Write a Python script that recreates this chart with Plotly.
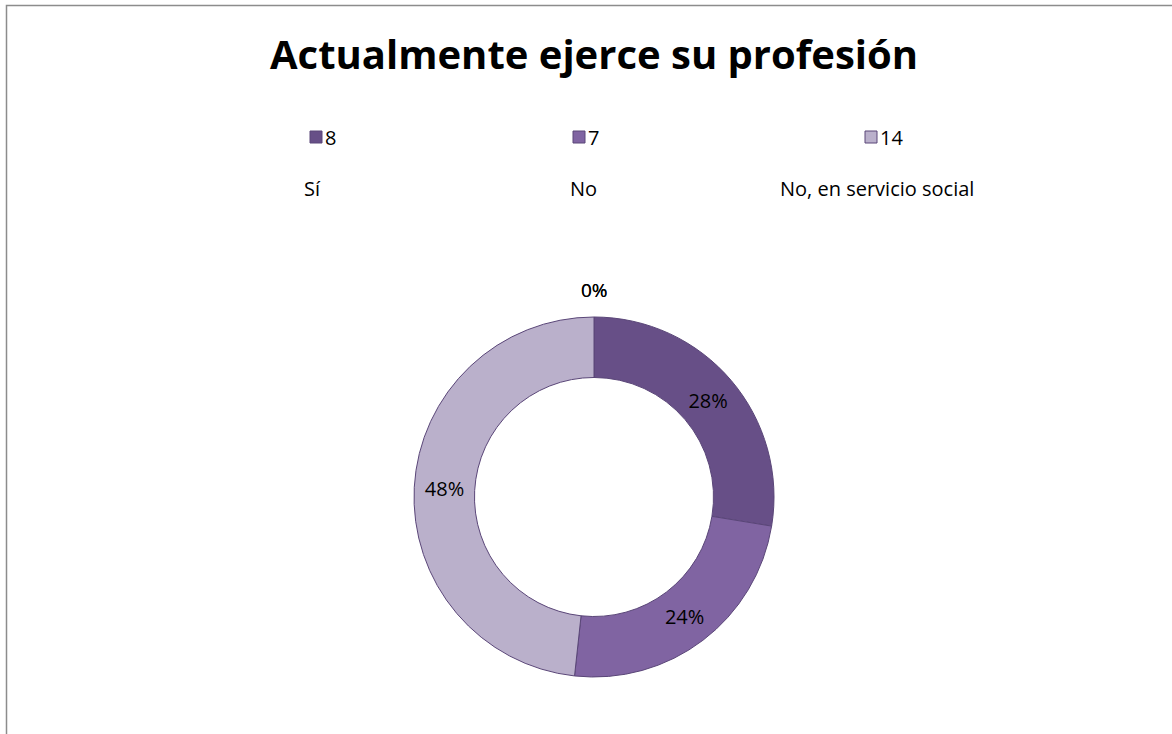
import plotly.graph_objects as go

title = "Actualmente ejerce su profesión"
counts = [8, 7, 14]
categories = ["Sí", "No", "No, en servicio social"]
zero_labels = ["0%", "0%"]
colors = ["#674F87", "#8064A2", "#BAB0CB"]
edge = "#5A4678"

W, H = 1172, 734
def px(x):
    return x / W
def py(y):
    return 1 - y / H

fig = go.Figure()
cx, cy, r = 594, 497, 180
fig.add_trace(go.Pie(
    values=counts, labels=categories, sort=False, direction="clockwise",
    hole=0.664, marker=dict(colors=colors, line=dict(color=edge, width=1)),
    texttemplate="%{percent:.0%}", textposition="inside",
    insidetextorientation="horizontal",
    textfont=dict(family="Open Sans", size=20, color="black"),
    domain=dict(x=[px(cx - r), px(cx + r)], y=[py(cy + r), py(cy - r)]),
    showlegend=False, hoverinfo="label+value+percent",
))

shapes = [dict(type="rect", xref="paper", yref="paper",
               x0=px(6.5), x1=1.02, y0=-0.02, y1=py(5.5),
               line=dict(color="#8C8C8C", width=1.5), fillcolor="rgba(0,0,0,0)")]
annotations = [dict(text=f"<b>{title}</b>", x=px(594), y=py(54), xref="paper", yref="paper",
                    xanchor="center", yanchor="middle", showarrow=False,
                    font=dict(family="Open Sans", size=40, color="black"))]

sq_x = [310, 573, 865]
name_x = [302, 568, 778]
for i, (c, cat) in enumerate(zip(counts, categories)):
    x0 = sq_x[i]
    shapes.append(dict(type="rect", xref="paper", yref="paper",
                       x0=px(x0), x1=px(x0 + 12), y0=py(143), y1=py(131),
                       fillcolor=colors[i], line=dict(color=edge, width=1)))
    annotations.append(dict(text=str(c), x=px(x0 + 13), y=py(137), xref="paper", yref="paper",
                            xanchor="left", yanchor="middle", showarrow=False,
                            font=dict(family="Open Sans", size=20, color="black")))
    annotations.append(dict(text=cat, x=px(name_x[i]), y=py(188), xref="paper", yref="paper",
                            xanchor="left", yanchor="middle", showarrow=False,
                            font=dict(family="Open Sans", size=20, color="black")))

for j, zl in enumerate(zero_labels):
    annotations.append(dict(text=zl, x=px(594 + 0.5 * j), y=py(290), xref="paper", yref="paper",
                            xanchor="center", yanchor="middle", showarrow=False,
                            font=dict(family="Open Sans", size=19, color="black")))

fig.update_layout(width=W, height=H, margin=dict(l=0, r=0, t=0, b=0),
                  paper_bgcolor="white", plot_bgcolor="white",
                  shapes=shapes, annotations=annotations)
fig.write_html("out.html", config={"displayModeBar": False},
               post_script="document.body.style.margin='0';")
